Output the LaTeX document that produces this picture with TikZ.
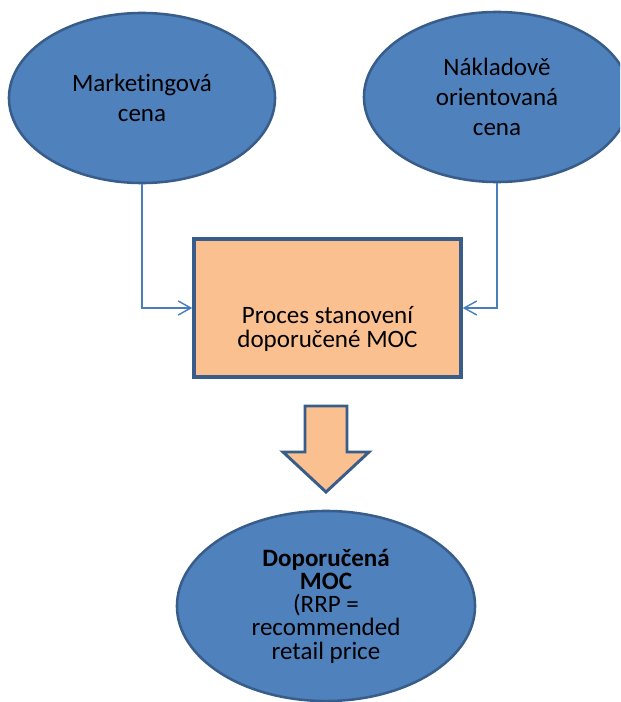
\documentclass[tikz,border=0pt]{standalone}
\usepackage{fontspec}
\setmainfont{Carlito}[Ligatures=NoCommon]
\usetikzlibrary{shapes.geometric}
\usetikzlibrary{arrows.meta}
\definecolor{ovalblue}{HTML}{4F81BD}
\definecolor{edgeblue}{HTML}{385D8A}
\definecolor{lineblue}{HTML}{4A7EBB}
\definecolor{peach}{HTML}{FAC090}

\begin{document}
\begin{tikzpicture}[x=0.025cm, y=-0.025cm,
            oval/.style={draw=edgeblue, line width=1.8pt, ellipse, fill=ovalblue, align=center, inner sep=0pt},
            procbox/.style={draw=edgeblue, line width=2.4pt, rectangle, fill=peach},
            feed/.style={draw=lineblue, line width=1pt, -{Straight Barb[length=9pt,width=10pt]}}]
            \clip (0,0) rectangle (620,702);
            \node[oval, minimum width=6.65cm, minimum height=4.25cm, font=\fontsize{17.8}{21}\selectfont] (mkt) at (142,98) {Marketingová\\cena};
            \node[oval, minimum width=6.65cm, minimum height=4.25cm, font=\fontsize{17.8}{21.5}\selectfont] (cost) at (497,97) {Nákladově\\orientovaná\\cena};
            \node[procbox, minimum width=6.675cm, minimum height=3.45cm] (proc) at (327.5,308) {};
            \node[align=center, font=\fontsize{17.8}{17}\selectfont] (proctxt) at (327.5,329) {Proces stanovení\\doporučené MOC};
            \node[oval, minimum width=7.45cm, minimum height=4.75cm, font=\fontsize{17.8}{16.5}\selectfont] (rrp) at (326,606) {\textbf{Doporučená}\\\textbf{MOC}\\(RRP =\\recommended\\retail price};
            
            \draw[feed] (mkt.south) |- (proc.west);
            \draw[feed] (cost.south) |- (proc.east);
            
            % block arrow
            \filldraw[draw=edgeblue, fill=peach, line width=2.1pt, line join=miter]
                (305,406) -- (347,406) -- (347,452) -- (369,452) -- (326,492)
                -- (283,452) -- (305,452) -- cycle;
        \end{tikzpicture}
\end{document}
